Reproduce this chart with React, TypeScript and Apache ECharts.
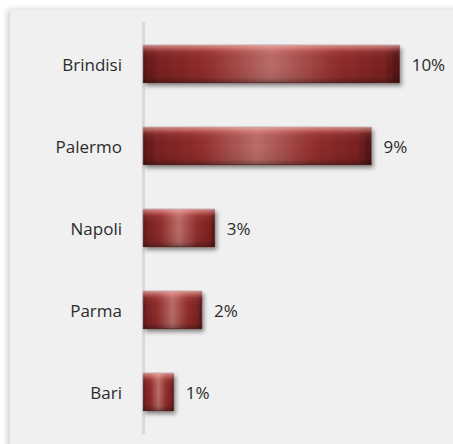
import React, { useEffect, useRef } from "react";
import * as echarts from "echarts";

const categories = ["Brindisi", "Palermo", "Napoli", "Parma", "Bari"];
const values = [10.0, 8.9, 2.8, 2.3, 1.2];

export default function App() {
  const ref = useRef<HTMLDivElement>(null);
  useEffect(() => {
    if (!ref.current) return;
    const chart = echarts.init(ref.current, null, { renderer: "svg" });
    const font = "'Open Sans', sans-serif";
    chart.setOption({
      animation: false,
      backgroundColor: "#ffffff",
      graphic: [
        {
          type: "rect",
          z: -10,
          silent: true,
          shape: { x: 10, y: 10, width: 460, height: 450 },
          style: {
            fill: "#f0f0f0",
            shadowBlur: 6,
            shadowOffsetX: -2,
            shadowOffsetY: 0,
            shadowColor: "rgba(0,0,0,0.22)",
          },
        },
      ],
      grid: { left: 143, top: 23, width: 308, height: 410, containLabel: false },
      xAxis: {
        type: "value",
        min: 0,
        max: 12,
        show: false,
      },
      yAxis: {
        type: "category",
        data: categories,
        inverse: true,
        axisLine: { show: true, lineStyle: { color: "#d9d9d9", width: 3 } },
        axisTick: { show: false },
        splitLine: { show: false },
        axisLabel: {
          margin: 21,
          fontSize: 17,
          fontFamily: font,
          color: "#2b2b2b",
        },
      },
      series: [
        {
          type: "bar",
          data: values,
          barWidth: 38,
          z: 3,
          itemStyle: {
            color: new echarts.graphic.LinearGradient(0, 0, 1, 0, [
              { offset: 0, color: "#5e1717" },
              { offset: 0.06, color: "#7a2222" },
              { offset: 0.25, color: "#922e2d" },
              { offset: 0.5, color: "#bb6e6a" },
              { offset: 0.75, color: "#922e2d" },
              { offset: 0.94, color: "#7a2222" },
              { offset: 1, color: "#4e1212" },
            ]),
            borderColor: "#5a1a1a",
            borderWidth: 0.5,
            shadowBlur: 4,
            shadowOffsetX: 2,
            shadowOffsetY: 3,
            shadowColor: "rgba(0,0,0,0.45)",
          },
          label: {
            show: true,
            position: "right",
            distance: 12,
            fontSize: 17,
            fontFamily: font,
            color: "#2b2b2b",
            formatter: (p: any) => Math.round(p.value) + "%",
          },
        },
        {
          type: "bar",
          data: values,
          barWidth: 38,
          barGap: "-100%",
          z: 4,
          silent: true,
          itemStyle: {
            color: new echarts.graphic.LinearGradient(0, 0, 0, 1, [
              { offset: 0, color: "rgba(255,215,210,0.6)" },
              { offset: 0.08, color: "rgba(255,170,165,0.45)" },
              { offset: 0.18, color: "rgba(255,150,150,0.12)" },
              { offset: 0.5, color: "rgba(0,0,0,0)" },
              { offset: 0.85, color: "rgba(0,0,0,0.08)" },
              { offset: 1, color: "rgba(0,0,0,0.35)" },
            ]),
          },
          label: { show: false },
        },
      ],
    });
    return () => chart.dispose();
  }, []);
  return (
    <div
      ref={ref}
      style={{ position: "fixed", left: 0, top: 0, width: 453, height: 444 }}
    />
  );
}
